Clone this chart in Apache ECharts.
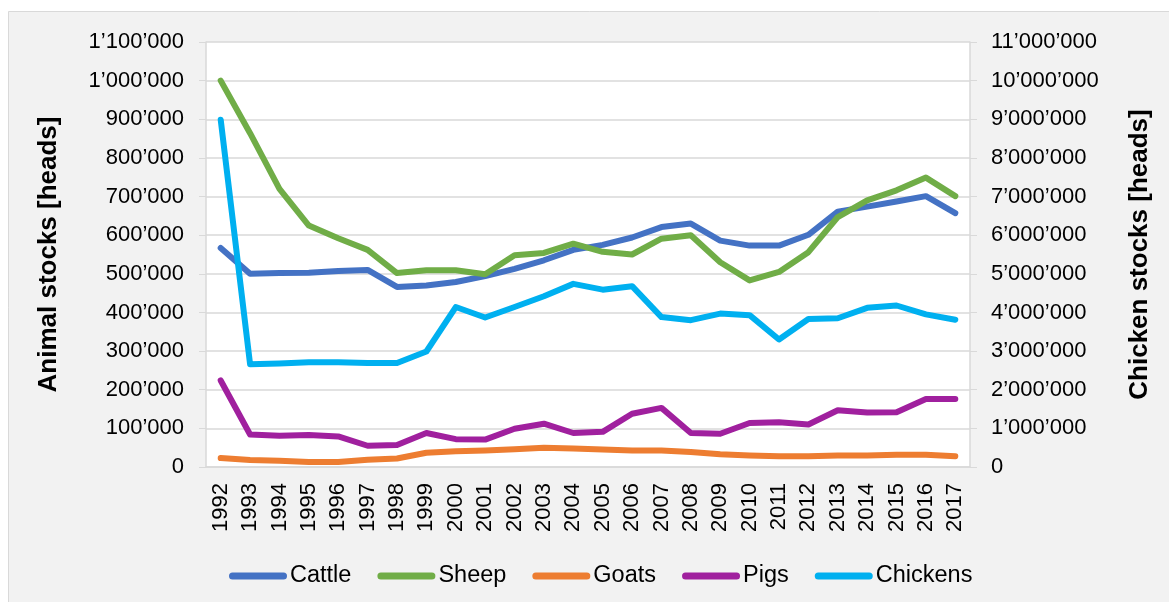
<!DOCTYPE html>
<html><head><meta charset="utf-8">
<script src="https://cdn.jsdelivr.net/npm/echarts@6/dist/echarts.min.js"></script>
<style>html,body{margin:0;padding:0;background:#fff}#c{width:1169px;height:602px}</style>
</head><body><div id="c"></div>
<script>
const years = ['1992','1993','1994','1995','1996','1997','1998','1999','2000','2001','2002','2003','2004','2005','2006','2007','2008','2009','2010','2011','2012','2013','2014','2015','2016','2017'];
const cattle = [567000,500000,502000,503000,507000,510000,466000,470000,479000,494000,513000,535000,562000,575000,594000,621000,630000,586000,573000,573000,601000,661000,674000,687000,701000,657000];
const sheep = [1000000,864000,720000,625000,592000,562000,502000,509000,509000,499000,548000,554000,578000,557000,550000,591000,600000,530000,483000,505000,556000,647000,690000,716000,749000,701000];
const goats = [23000,18000,16000,13000,13000,19000,22000,37000,41000,43000,46000,50000,48000,45000,43000,43000,39000,33000,30000,28000,28000,30000,30000,32000,32000,28000];
const pigs = [224000,84000,81000,83000,79000,55000,57000,88000,72000,71000,99000,112000,88000,91000,138000,153000,88000,86000,114000,116000,110000,147000,141000,142000,176000,176000];
const chickens = [8990000,2660000,2680000,2710000,2710000,2690000,2690000,2990000,4140000,3870000,4140000,4420000,4740000,4590000,4680000,3880000,3800000,3970000,3930000,3300000,3830000,3850000,4120000,4180000,3950000,3810000];

const fmt = v => String(v).replace(/\B(?=(\d{3})+(?!\d))/g, '\u2019');
const chart = echarts.init(document.getElementById('c'));
const lineSeries = (name, data, color, yIdx) => ({
  name, type: 'line', data, yAxisIndex: yIdx, symbol: 'none',
  lineStyle: { color, width: 6, cap: 'round', join: 'round' },
  itemStyle: { color }
});
chart.setOption({
  animation: false,
  backgroundColor: '#ffffff',
  textStyle: { fontFamily: 'Liberation Sans, Arial, sans-serif' },
  graphic: [{ type: 'rect', z: -10, silent: true,
    shape: { x: 8.5, y: 11.5, width: 1170, height: 600 },
    style: { fill: '#f2f2f2', stroke: '#d9d9d9', lineWidth: 1 } }],
  grid: { left: 206, right: 199, top: 42, bottom: 135, show: true, backgroundColor: '#ffffff', borderWidth: 0 },
  legend: {
    top: 559, left: 224, itemGap: 26, itemWidth: 58, itemHeight: 7,
    icon: 'path://M3.5,0 L54.5,0 A3.5,3.5 0 0 1 54.5,7 L3.5,7 A3.5,3.5 0 0 1 3.5,0 Z',
    textStyle: { fontSize: 23.5, color: '#000', padding: [0,0,0,-2] },
    data: ['Cattle','Sheep','Goats','Pigs','Chickens']
  },
  xAxis: {
    type: 'category', data: years, boundaryGap: true,
    axisLine: { lineStyle: { color: '#d9d9d9', width: 1.5 } },
    axisTick: { show: false },
    axisLabel: { rotate: 90, fontSize: 22, color: '#000', margin: 16, interval: 0 }
  },
  yAxis: [{
    type: 'value', min: 0, max: 1100000, interval: 100000,
    name: 'Animal stocks [heads]', nameLocation: 'middle', nameGap: 144,
    nameTextStyle: { fontSize: 26, fontWeight: 'bold', color: '#000' },
    axisLine: { show: true, lineStyle: { color: '#d9d9d9', width: 1.5 } },
    axisTick: { show: true, length: 7, lineStyle: { color: '#d9d9d9' } },
    splitLine: { lineStyle: { color: '#d9d9d9', width: 1.5 } },
    axisLabel: { fontSize: 22, color: '#000', margin: 22, formatter: fmt }
  }, {
    type: 'value', min: 0, max: 11000000, interval: 1000000,
    name: 'Chicken stocks [heads]', nameLocation: 'middle', nameGap: 157, nameRotate: 90,
    nameTextStyle: { fontSize: 26, fontWeight: 'bold', color: '#000' },
    axisLine: { show: true, lineStyle: { color: '#d9d9d9', width: 1.5 } },
    axisTick: { show: true, length: 7, lineStyle: { color: '#d9d9d9' } },
    splitLine: { show: false },
    axisLabel: { fontSize: 22, color: '#000', margin: 21, formatter: fmt }
  }],
  series: [
    lineSeries('Cattle', cattle, '#4472c4', 0),
    lineSeries('Sheep', sheep, '#70ad47', 0),
    lineSeries('Goats', goats, '#ed7d31', 0),
    lineSeries('Pigs', pigs, '#a0209e', 0),
    lineSeries('Chickens', chickens, '#00b0f0', 1)
  ]
});
</script></body></html>
